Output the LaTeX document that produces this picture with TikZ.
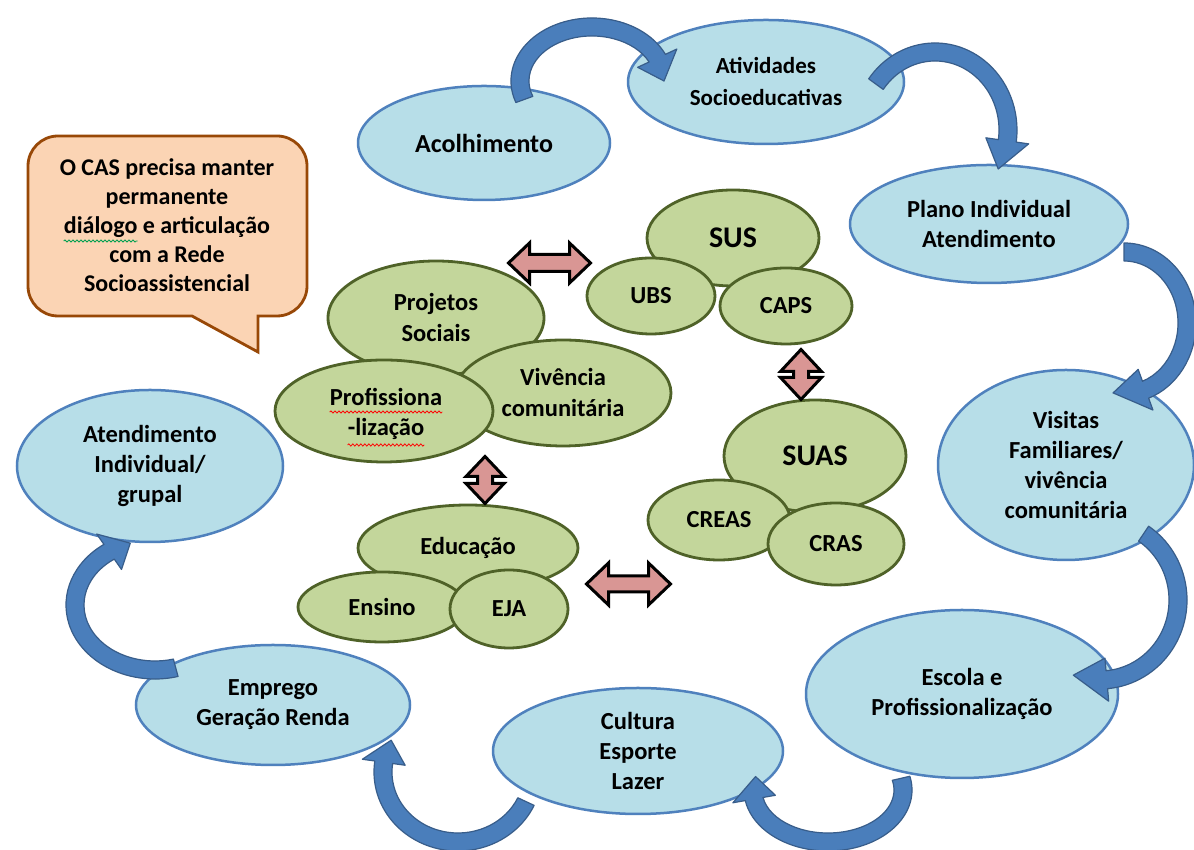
\documentclass[tikz,border=0pt]{standalone}
\usepackage{fontspec}
\setmainfont{Carlito}
\usetikzlibrary{shapes.geometric,calc,decorations.pathmorphing}
\definecolor{bluefill}{HTML}{B7DEE8}
\definecolor{blueline}{HTML}{4F81BD}
\definecolor{arrowblue}{HTML}{4A7EBB}
\definecolor{arrowdark}{HTML}{385D8A}
\definecolor{greenfill}{HTML}{C3D69B}
\definecolor{greenline}{HTML}{4F6228}
\definecolor{pinkfill}{HTML}{D99694}
\definecolor{peachfill}{HTML}{FBD4B4}
\definecolor{calloutline}{HTML}{984807}
\definecolor{wavegreen}{HTML}{00A050}
\newcommand\bluefont{\fontsize{24.5}{30}\selectfont\bfseries}
\newcommand\bigbluefont{\fontsize{26}{30}\selectfont\bfseries}
\newcommand\smallbluefont{\fontsize{23}{32}\selectfont\bfseries}
\newcommand\greenfont{\fontsize{24.5}{31}\selectfont\bfseries}
\newcommand\titlefont{\fontsize{30}{36}\selectfont\bfseries}
\newcommand\calloutfont{\fontsize{24}{29.5}\selectfont\bfseries}
% curved block arrow: name, cx, cy, rx, ry, start angle, head base angle, tip angle, width
\newcommand\bentarrowdraw[9]{%
  \pgfmathsetmacro\oxr{#4+#9/2}\pgfmathsetmacro\oyr{#5+#9/2}%
  \pgfmathsetmacro\ixr{#4-#9/2}\pgfmathsetmacro\iyr{#5-#9/2}%
  \pgfmathsetmacro\hoxr{#4+1.2*#9}\pgfmathsetmacro\hoyr{#5+1.2*#9}%
  \pgfmathsetmacro\hixr{#4-1.2*#9}\pgfmathsetmacro\hiyr{#5-1.2*#9}%
  \coordinate (#1) at (#2,#3);
  \fill[bentarrow] ($(#1)+(#6:{\oxr} and {\oyr})$)
    arc[start angle=#6,end angle=#7,x radius=\oxr,y radius=\oyr]
    -- ($(#1)+(#7:{\hoxr} and {\hoyr})$)
    -- ($(#1)+(#8:{#4} and {#5})$)
    -- ($(#1)+(#7:{\hixr} and {\hiyr})$)
    -- ($(#1)+(#7:{\ixr} and {\iyr})$)
    arc[start angle=#7,end angle=#6,x radius=\ixr,y radius=\iyr]
    -- cycle;}
% double block arrow: name, cx, cy, rotation, length, head width, shaft width, head length
\newcommand\dblarrowdraw[8]{%
  \coordinate (#1) at (#2,#3);
  \draw[pinkarrow, shift={(#1)}, rotate=#4]
    ({-#5/2},0) -- ({-#5/2+#8},{#6/2}) -- ({-#5/2+#8},{#7/2}) -- ({#5/2-#8},{#7/2})
    -- ({#5/2-#8},{#6/2}) -- ({#5/2},0) -- ({#5/2-#8},{-#6/2}) -- ({#5/2-#8},{-#7/2})
    -- ({-#5/2+#8},{-#7/2}) -- ({-#5/2+#8},{-#6/2}) -- cycle;}
\begin{document}
\begin{tikzpicture}[x=1pt,y=1pt,
  blueell/.style={ellipse, draw=blueline, fill=bluefill, line width=2.5pt, inner sep=0pt, align=center, font=\bluefont},
  greenell/.style={ellipse, draw=greenline, fill=greenfill, line width=2.8pt, inner sep=0pt, align=center, font=\greenfont},
  pinkarrow/.style={draw=black, fill=pinkfill, line width=3pt, line join=miter, miter limit=4},
  bentarrow/.style={fill=arrowblue, draw=arrowdark, line width=1.2pt, line join=round},
  callout/.style={draw=calloutline, fill=peachfill, line width=2.8pt},
  calloutline/.style={font=\calloutfont, inner sep=0pt, anchor=base},
  wavyline/.style={decorate, decoration={snake, segment length=4pt, amplitude=1.1pt}, line width=0.8pt}]
\useasboundingbox (0,0) rectangle (1194,850);
\fill[white] (0,0) rectangle (1194,850);

% blue cycle ellipses
\node[blueell, minimum width=252pt, minimum height=114pt, font=\bigbluefont] (acol) at (484,707) {Acolhimento};
\node[blueell, minimum width=276pt, minimum height=124pt, font=\smallbluefont] (ativ) at (766,768) {Atividades\\Socioeducativas};
\node[blueell, minimum width=278pt, minimum height=118pt] (plano) at (989,626) {Plano Individual\\Atendimento};
\node[blueell, minimum width=256pt, minimum height=190pt] (visitas) at (1066,385) {Visitas\\Familiares/\\vivência\\comunitária};
\node[blueell, minimum width=312pt, minimum height=168pt] (escola) at (962,156) {Escola e\\Profissionalização};
\node[blueell, minimum width=290pt, minimum height=126pt] (cultura) at (638,99) {Cultura\\Esporte\\Lazer};
\node[blueell, minimum width=274pt, minimum height=120pt] (emprego) at (273,145) {Emprego\\Geração Renda};
\node[blueell, minimum width=266pt, minimum height=152pt] (atend) at (150,384) {Atendimento\\Individual/\\grupal};

% callout
\draw[callout] (28,684) -- (28,564) arc[start angle=180,end angle=270,radius=30]
  -- (192,534) -- (258,498) -- (258,534) -- (277,534)
  arc[start angle=270,end angle=360,radius=30] -- (307,684)
  arc[start angle=0,end angle=90,radius=30] -- (58,714)
  arc[start angle=90,end angle=180,radius=30] -- cycle;
\node[calloutline] (c1) at (167,674) {O CAS precisa manter};
\node[calloutline] (c2) at (167,645) {permanente};
\node[calloutline] (c3) at (167,616) {\phantom{diálogo} e articulação};
\node[calloutline, anchor=base west] (c3w) at (c3.base west) {diálogo};
\draw[wavyline, wavegreen] ($(c3w.base west)+(0,-7)$) -- ($(c3w.base east)+(0,-7)$);
\node[calloutline] (c4) at (167,587) {com a Rede};
\node[calloutline] (c5) at (167,558) {Socioassistencial};

% green clusters
\node[greenell, minimum width=172pt, minimum height=96pt, font=\titlefont] (sus) at (733,612) {SUS};
\node[greenell, minimum width=128pt, minimum height=76pt] (ubs) at (651,554) {UBS};
\node[greenell, minimum width=132pt, minimum height=76pt] (caps) at (786,544) {CAPS};

\node[greenell, minimum width=182pt, minimum height=112pt, font=\titlefont] (suas) at (815,394) {SUAS};
\node[greenell, minimum width=142pt, minimum height=80pt] (creas) at (719,330) {CREAS};
\node[greenell, minimum width=136pt, minimum height=82pt] (cras) at (836,306) {CRAS};

\node[greenell, minimum width=216pt, minimum height=114pt] (proj) at (436,532) {Projetos\\Sociais};
\node[greenell, minimum width=216pt, minimum height=106pt] (viv) at (563,457) {Vivência\\comunitária};
\node[greenell, minimum width=218pt, minimum height=102pt] (prof) at (384,439) {};
\node[font=\greenfont, inner sep=0pt, anchor=base] (profa) at (386,444) {Profissiona};
\node[font=\greenfont, inner sep=0pt, anchor=base] (profb) at (386,414) {-lização};
\draw[wavyline, red] ($(profa.base west)+(0,-6)$) -- ($(profa.base east)+(0,-6)$);
\draw[wavyline, red] ($(profb.base west)+(0,-9)$) -- ($(profb.base east)+(0,-9)$);

\node[greenell, minimum width=220pt, minimum height=86pt] (edu) at (468,302) {Educação};
\node[greenell, minimum width=168pt, minimum height=70pt] (ensino) at (382,243) {Ensino};
\node[greenell, minimum width=118pt, minimum height=78pt] (eja) at (509,241) {EJA};

% pink double arrows
\dblarrowdraw{pa1}{549.5}{587}{0}{82}{40}{17}{21}
\dblarrowdraw{pa2}{801}{475.5}{90}{50}{41}{15}{22}
\dblarrowdraw{pa3}{485}{370}{90}{47}{38}{15}{20}
\dblarrowdraw{pa4}{628.5}{266}{0}{84}{42}{16}{22}

% blue curved arrows
\bentarrowdraw{ca1}{592}{769}{72}{54}{200}{25}{0}{18}
\bentarrowdraw{ca2}{935}{720}{73}{78}{144}{-8}{-30}{18}
\bentarrowdraw{ca3}{1124}{527}{63}{71}{90}{-70}{-100}{18}
\bentarrowdraw{ca4}{1100}{250}{78}{80}{56}{-85}{-110}{18}
\bentarrowdraw{ca5}{828}{60}{75}{52}{13}{-170}{-195}{18}
\bentarrowdraw{ca6}{458}{78}{75}{70}{-25}{-188}{-207}{18}
\bentarrowdraw{ca7}{155}{245}{80}{65}{-75}{-235}{-252}{18}
\end{tikzpicture}
\end{document}
